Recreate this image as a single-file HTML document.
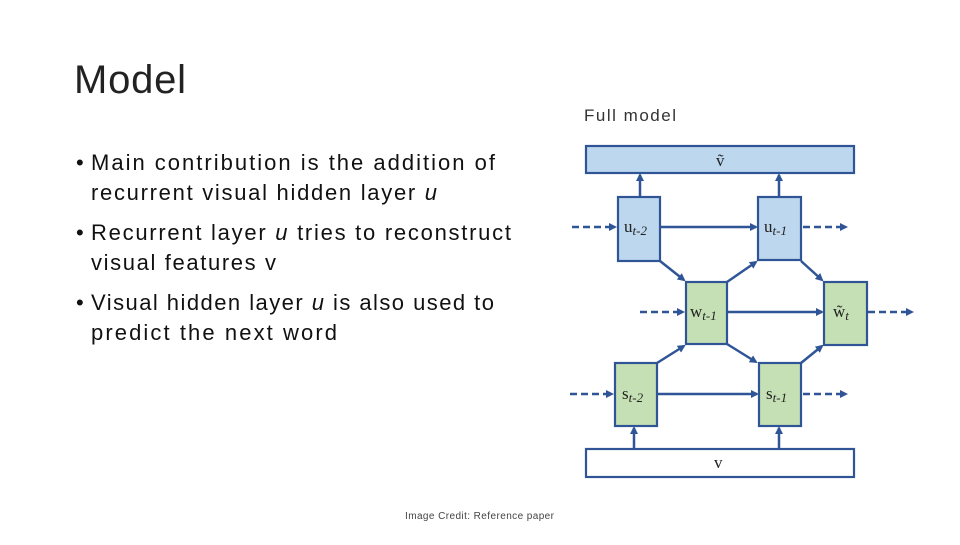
<!DOCTYPE html>
<html><head><meta charset="utf-8"><style>html,body{margin:0;padding:0;background:#fff}</style></head>
<body>
<svg width="960" height="540" viewBox="0 0 960 540" xmlns="http://www.w3.org/2000/svg" font-family="Liberation Sans, sans-serif">
<defs>
<marker id="a" markerWidth="8" markerHeight="8" refX="6" refY="4" orient="auto" markerUnits="userSpaceOnUse"><path d="M0,0 L8,4 L0,8 z" fill="#2f5597"/></marker>
</defs>
<text x="74" y="93" font-size="40" textLength="112" fill="#222">Model</text>
<g font-size="22" fill="#111">
<text x="76" y="170">•</text><text x="91" y="170" textLength="404">Main contribution is the addition of</text>
<text x="91" y="200" textLength="346">recurrent visual hidden layer <tspan font-style="italic">u</tspan></text>
<text x="76" y="240">•</text><text x="91" y="240" textLength="420">Recurrent layer <tspan font-style="italic">u</tspan> tries to reconstruct</text>
<text x="91" y="270" textLength="185">visual features v</text>
<text x="76" y="310">•</text><text x="91" y="310" textLength="403">Visual hidden layer <tspan font-style="italic">u</tspan> is also used to</text>
<text x="91" y="340" textLength="246">predict the next word</text>
</g>
<text x="405" y="519" font-size="10" fill="#444" textLength="149">Image Credit: Reference paper</text>
<text x="584" y="121" font-size="17" fill="#333" textLength="92">Full model</text>
<g stroke="#2f5597" stroke-width="2.2">
<rect x="586" y="146" width="268" height="27" fill="#bdd7ee"/>
<rect x="586" y="449" width="268" height="28" fill="#fff"/>
<rect x="618" y="197" width="42" height="64" fill="#bdd7ee"/>
<rect x="758" y="197" width="43" height="63" fill="#bdd7ee"/>
<rect x="686" y="282" width="41" height="62" fill="#c5e0b4"/>
<rect x="824" y="282" width="43" height="63" fill="#c5e0b4"/>
<rect x="615" y="363" width="42" height="63" fill="#c5e0b4"/>
<rect x="759" y="363" width="42" height="63" fill="#c5e0b4"/>
</g>
<g stroke="#2f5597" stroke-width="2.5" fill="none" marker-end="url(#a)">
<line x1="640" y1="197" x2="640" y2="175"/>
<line x1="779" y1="197" x2="779" y2="175"/>
<line x1="634" y1="449" x2="634" y2="428"/>
<line x1="779" y1="449" x2="779" y2="428"/>
<line x1="660" y1="227" x2="756" y2="227"/>
<line x1="727" y1="312" x2="822" y2="312"/>
<line x1="657" y1="394" x2="757" y2="394"/>
<line x1="660" y1="261" x2="684" y2="280"/>
<line x1="727" y1="282" x2="756" y2="262"/>
<line x1="801" y1="261" x2="822" y2="280"/>
<line x1="657" y1="363" x2="684" y2="346"/>
<line x1="727" y1="344" x2="756" y2="362"/>
<line x1="801" y1="363" x2="822" y2="346"/>
</g>
<g stroke="#2f5597" stroke-width="2.5" fill="none" stroke-dasharray="7,4" marker-end="url(#a)">
<line x1="572" y1="227" x2="615" y2="227"/>
<line x1="803" y1="227" x2="846" y2="227"/>
<line x1="640" y1="312" x2="683" y2="312"/>
<line x1="868" y1="312" x2="912" y2="312"/>
<line x1="570" y1="394" x2="612" y2="394"/>
<line x1="803" y1="394" x2="846" y2="394"/>
</g>
<g font-family="Liberation Serif, serif" font-size="17" fill="#222">
<text x="716" y="166">ṽ</text>
<text x="714" y="468">v</text>
<text x="624" y="232">u<tspan font-size="13" font-style="italic" dy="3">t-2</tspan></text>
<text x="764" y="232">u<tspan font-size="13" font-style="italic" dy="3">t-1</tspan></text>
<text x="690" y="317">w<tspan font-size="13" font-style="italic" dy="3">t-1</tspan></text>
<text x="833" y="317">w̃<tspan font-size="13" font-style="italic" dy="3">t</tspan></text>
<text x="622" y="399">s<tspan font-size="13" font-style="italic" dy="3">t-2</tspan></text>
<text x="766" y="399">s<tspan font-size="13" font-style="italic" dy="3">t-1</tspan></text>
</g>
</svg>
</body></html>
